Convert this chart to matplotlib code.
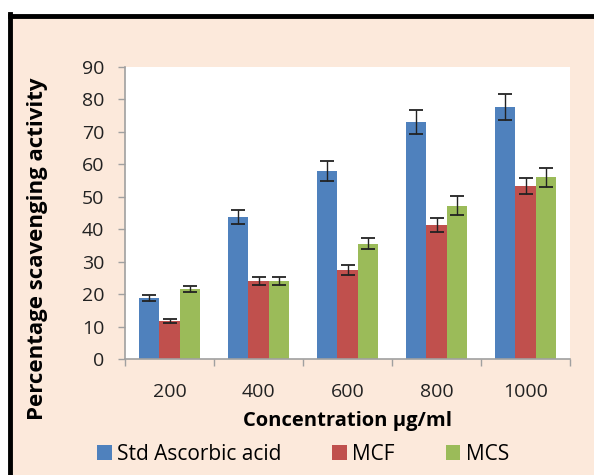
#! /usr/bin/env python3

import numpy as np
import matplotlib.pyplot as plt
from matplotlib.patches import Rectangle
from matplotlib.lines import Line2D

# data
concentrations = ['200', '400', '600', '800', '1000']
series_names = ['Std Ascorbic acid', 'MCF', 'MCS']
ascorbic = [18.8, 43.8, 57.9, 73.0, 77.7]
ascorbic_err = [1.0, 2.2, 3.1, 3.8, 4.0]
mcf = [11.6, 24.0, 27.5, 41.4, 53.4]
mcf_err = [0.6, 1.2, 1.5, 2.2, 2.5]
mcs = [21.6, 24.0, 35.5, 47.3, 56.0]
mcs_err = [1.0, 1.3, 1.7, 2.8, 3.0]

colors = ['#4F81BD', '#C0504D', '#9BBB59']
peach = '#FCE9DB'

plt.rcParams['font.family'] = ['Open Sans', 'DejaVu Sans']

fig = plt.figure(figsize=(5.94, 4.75), dpi=100)

# peach frame with black top/left border
fig.patches.append(Rectangle((10 / 594, 0), 1, 1 - 15.5 / 475, transform=fig.transFigure,
	facecolor=peach, edgecolor='none', zorder=-2))
fig.lines.append(Line2D([9.5 / 594, 1], [1 - 15.5 / 475, 1 - 15.5 / 475], transform=fig.transFigure,
	color='black', lw=3.5, zorder=-1))
fig.lines.append(Line2D([9.5 / 594, 9.5 / 594], [0, 1 - 14 / 475], transform=fig.transFigure,
	color='black', lw=3.5, zorder=-1))

ax = fig.add_axes([125 / 594, 1 - 359 / 475, 445 / 594, 292 / 475])
ax.set_facecolor('white')

x = np.arange(len(concentrations))
w = 0.225
data = [(ascorbic, ascorbic_err), (mcf, mcf_err), (mcs, mcs_err)]
for i, (vals, errs) in enumerate(data):
	ax.bar(x + (i - 1) * w, vals, w, yerr=errs, color=colors[i], label=series_names[i],
		error_kw=dict(ecolor='#222222', elinewidth=1.0, capsize=4.7, capthick=1.3), zorder=2)

ax.set_xlim(-0.5, 4.5)
ax.set_ylim(0, 90)
ax.set_yticks(np.arange(0, 91, 10))
ax.set_xticks(x)
ax.set_xticklabels(concentrations)
ax.set_xticks(np.arange(-0.5, 5, 1), minor=True)
ax.tick_params(axis='x', which='major', length=0, pad=17, labelsize=14, labelcolor='#222222')
ax.tick_params(axis='x', which='minor', length=5, color='#A0A0A0', width=1)
ax.tick_params(axis='y', length=5, color='#A0A0A0', width=1, pad=10, labelsize=14, labelcolor='#222222')

for s in ['top', 'right']:
	ax.spines[s].set_visible(False)
for s in ['left', 'bottom']:
	ax.spines[s].set_color('#A0A0A0')
	ax.spines[s].set_linewidth(1.2)

ax.set_xlabel('Concentration µg/ml', fontsize=14.5, fontweight='bold', labelpad=7.5)
ax.set_ylabel('Percentage scavenging activity', fontsize=16, fontweight='bold')
ax.yaxis.set_label_coords(-0.173, 0.377)

leg = ax.legend(loc='upper center', bbox_to_anchor=(0.40, -0.29), ncol=3, frameon=False,
	fontsize=15, handlelength=0.7, handleheight=0.7, handletextpad=0.25, columnspacing=2.45,
	borderaxespad=0, borderpad=0)

fig.savefig('out.png', dpi=100, facecolor='white')
